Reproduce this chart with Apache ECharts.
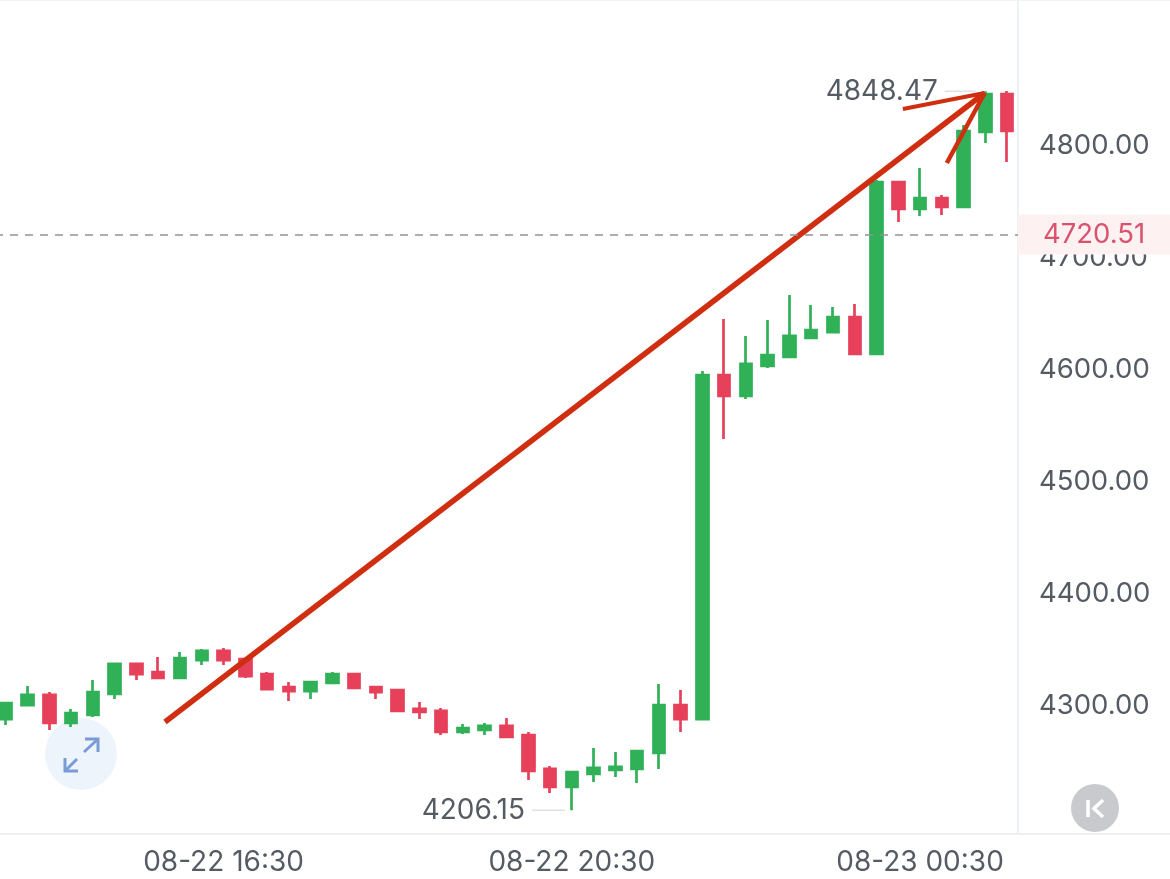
<!DOCTYPE html>
<html><head><meta charset="utf-8">
<style>html,body{margin:0;padding:0;background:#fff}#c{width:1170px;height:879px}</style>
<script src="https://cdn.jsdelivr.net/npm/echarts@6/dist/echarts.min.js"></script>
</head><body><div id="c"></div>
<script>
const categories = ['08-22 14:00','08-22 14:15','08-22 14:30','08-22 14:45','08-22 15:00','08-22 15:15','08-22 15:30','08-22 15:45','08-22 16:00','08-22 16:15','08-22 16:30','08-22 16:45','08-22 17:00','08-22 17:15','08-22 17:30','08-22 17:45','08-22 18:00','08-22 18:15','08-22 18:30','08-22 18:45','08-22 19:00','08-22 19:15','08-22 19:30','08-22 19:45','08-22 20:00','08-22 20:15','08-22 20:30','08-22 20:45','08-22 21:00','08-22 21:15','08-22 21:30','08-22 21:45','08-22 22:00','08-22 22:15','08-22 22:30','08-22 22:45','08-22 23:00','08-22 23:15','08-22 23:30','08-22 23:45','08-23 00:00','08-23 00:15','08-23 00:30','08-23 00:45','08-23 01:00','08-23 01:15','08-23 01:30'];
const opens = [4287.7,4300.2,4309.2,4284.2,4291.3,4310.1,4336.9,4329.7,4324.4,4340.4,4348.5,4341.3,4327.9,4316.3,4312.7,4319.9,4327.9,4316.3,4313.6,4296.7,4294.9,4276.1,4277.9,4281.5,4273.4,4243.1,4227.0,4238.6,4242.2,4243.1,4257.4,4300.2,4287.7,4595.0,4576.3,4603.1,4611.1,4628.1,4633.4,4646.8,4613.8,4767.4,4743.3,4753.1,4745.1,4812.1,4846.0];
const closes = [4302.0,4309.2,4284.2,4293.1,4311.8,4336.9,4327.9,4324.4,4342.2,4348.5,4340.4,4326.1,4314.5,4312.7,4320.8,4327.9,4315.4,4311.8,4294.9,4294.0,4276.1,4279.7,4281.5,4271.7,4241.3,4227.0,4240.4,4244.0,4244.9,4259.1,4300.2,4287.7,4595.0,4576.3,4604.9,4612.9,4629.9,4635.2,4646.8,4613.8,4767.4,4743.3,4753.1,4745.1,4813.0,4846.0,4813.0];
const lows = [4282.4,4300.2,4277.9,4280.6,4289.5,4305.6,4322.6,4324.4,4324.4,4336.0,4336.0,4324.4,4314.5,4303.8,4305.6,4319.0,4315.4,4305.6,4294.9,4287.7,4273.4,4274.3,4273.4,4270.8,4233.2,4221.6,4206.15,4231.5,4235.9,4230.6,4243.1,4276.1,4287.7,4537.9,4573.6,4601.3,4611.1,4628.1,4633.4,4613.8,4613.8,4731.7,4737.1,4737.9,4745.1,4802.3,4785.3];
const highs = [4302.0,4317.2,4311.8,4296.7,4322.6,4336.9,4336.9,4343.1,4347.6,4350.3,4351.2,4341.3,4329.7,4320.8,4320.8,4329.7,4328.8,4316.3,4313.6,4302.9,4297.6,4283.3,4284.2,4288.6,4276.1,4245.7,4240.4,4261.8,4258.3,4259.1,4319.0,4313.6,4598.6,4645.0,4629.9,4644.2,4666.5,4657.6,4655.8,4658.4,4769.2,4767.4,4779.9,4755.8,4818.3,4848.47,4848.7];
const priceTicks = [4300,4400,4500,4600,4700,4800];
const timeTickIndexes = [10,26,42];
const lastPrice = 4720.51;
const highLeader = [[43.14,4848.47],[44.56,4848.47]];
const lowLeader = [[24.17,4206.15],[25.69,4206.15]];
const arrowShaft = [[7.31,4285.0],[44.97,4846.9]];
const arrowHeadLeft = [[41.21,4832.6],[44.97,4846.9]];
const arrowHeadRight = [[43.23,4784.4],[44.97,4846.9]];

const FONT = 'Inter';
const TEXT = '#555b63';
const GREEN = '#30b158', RED = '#e6405a', ARROW = '#cf2f10';
const candleData = categories.map((_, i) => [opens[i], closes[i], lows[i], highs[i]]);

function leader(data, text) {
  return {
    type:'line', xAxisIndex:1, yAxisIndex:0, symbol:'circle', symbolSize:0, silent:true, z:3,
    lineStyle:{color:'#dfe1e4', width:1.5},
    data:[{value:data[0], label:{show:true, position:'left', distance:7, formatter:text,
      color:TEXT, fontFamily:FONT, fontSize:28, padding:[6,0,0,0]}}, {value:data[1]}]
  };
}
function arrow(data, w) {
  return {type:'line', xAxisIndex:1, yAxisIndex:0, symbol:'none', silent:true, z:4,
    lineStyle:{color:ARROW, width:w, cap:'butt'}, data:data};
}
const chart = echarts.init(document.getElementById('c'), null, {renderer:'canvas'});
chart.setOption({
  animation:false,
  backgroundColor:'#ffffff',
  grid:{left:-5, right:152, top:0, bottom:45, containLabel:false, outerBoundsMode:'none'},
  xAxis:[
    {type:'category', data:categories, boundaryGap:true,
     axisLine:{show:false}, axisTick:{show:false}, splitLine:{show:false},
     axisLabel:{interval:(i)=>timeTickIndexes.includes(i), margin:15, color:TEXT, fontFamily:FONT, fontSize:28,
       formatter:(v)=>v, hideOverlap:false}},
    {type:'value', min:-0.5, max:46.5, show:false}
  ],
  yAxis:[{type:'value', position:'right', min:4185, max:4930, scale:true,
    axisLine:{show:true, onZero:false, lineStyle:{color:'#eef1f4', width:2}},
    axisTick:{show:false}, splitLine:{show:false},
    axisLabel:{customValues:priceTicks, margin:21, color:TEXT, fontFamily:FONT, fontSize:27.5, padding:[5,0,0,0],
      formatter:(v)=>v.toFixed(2)}}],
  series:[
    {type:'candlestick', data:candleData, barWidth:12, z:2,
     itemStyle:{color:GREEN, borderColor:GREEN, color0:RED, borderColor0:RED, borderWidth:2.7},
     markLine:{silent:true, symbol:'none', animation:false,
       lineStyle:{color:'#8f9499', type:[8,7], width:1.5},
       label:{show:true, position:'end', distance:0, offset:[76,0], formatter:lastPrice.toFixed(2),
         color:'#d9536f', fontFamily:FONT, fontSize:27.5, backgroundColor:'#fdf1f2',
         width:152, height:40, lineHeight:40, align:'center', verticalAlign:'middle'},
       data:[{yAxis:lastPrice}]}},
    leader(highLeader,'4848.47'),
    leader(lowLeader,'4206.15'),
    arrow(arrowShaft,5.5),
    arrow(arrowHeadLeft,4),
    arrow(arrowHeadRight,4.5)
  ],
  graphic:[
    {type:'line', silent:true, z:1, shape:{x1:0,y1:834,x2:1170,y2:834}, style:{stroke:'#eeeff1', lineWidth:2}},
    {type:'line', silent:true, z:1, shape:{x1:0,y1:0.5,x2:1170,y2:0.5}, style:{stroke:'#f1f3f5', lineWidth:1}},
    {type:'circle', silent:true, z:1, shape:{cx:81,cy:754,r:36}, style:{fill:'#edf4fc'}},
    {type:'polyline', silent:true, z:5, shape:{points:[[84,752],[98,739]]}, style:{stroke:'#7b9bd6', lineWidth:3, fill:null}},
    {type:'polyline', silent:true, z:5, shape:{points:[[85,739],[98,739],[98,752]]}, style:{stroke:'#7b9bd6', lineWidth:3, fill:null}},
    {type:'polyline', silent:true, z:5, shape:{points:[[77,759],[65,771]]}, style:{stroke:'#7b9bd6', lineWidth:3, fill:null}},
    {type:'polyline', silent:true, z:5, shape:{points:[[65,758],[65,771],[78,771]]}, style:{stroke:'#7b9bd6', lineWidth:3, fill:null}},
    {type:'circle', silent:true, z:5, shape:{cx:1095,cy:808,r:24}, style:{fill:'#c9cacd'}},
    {type:'line', silent:true, z:6, shape:{x1:1088,y1:800,x2:1088,y2:817}, style:{stroke:'#fff', lineWidth:3.5}},
    {type:'polyline', silent:true, z:6, shape:{points:[[1103,800],[1094,808.5],[1103,817]]}, style:{stroke:'#fff', lineWidth:3.5, fill:null}}
  ]
});
</script></body></html>
